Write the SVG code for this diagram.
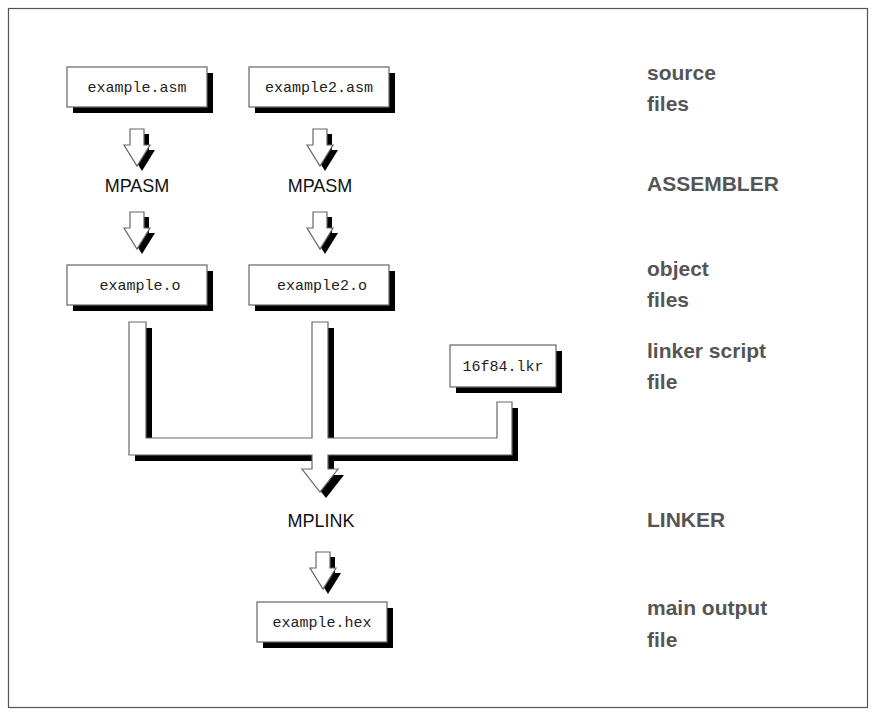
<svg xmlns="http://www.w3.org/2000/svg" width="876" height="717" viewBox="0 0 876 717">
<style>
.bx{fill:#fff;stroke:#666;stroke-width:1.2}
.sh{fill:#000}
.mono{font-family:"Liberation Mono",monospace;font-size:15px;fill:#222;text-anchor:middle}
.tool{font-family:"Liberation Sans",Arial,sans-serif;font-size:18px;fill:#111;text-anchor:middle}
.lbl{font-family:"Liberation Sans",Arial,sans-serif;font-size:21px;font-weight:bold;fill:#555}
</style>
<defs>
<g id="arr">
<path class="sh" transform="translate(5,5)" d="M-7,0 H7 V16 H13 L0,37 L-13,16 H-7 Z"/>
<path class="bx" d="M-7,0 H7 V16 H13 L0,37 L-13,16 H-7 Z"/>
</g>
</defs>
<rect x="8.5" y="8.5" width="859" height="699" fill="#fff" stroke="#555" stroke-width="1.2"/>
<g id="connectors">
<use href="#arr" x="137" y="129"/>
<use href="#arr" x="320" y="129"/>
<use href="#arr" x="137" y="212"/>
<use href="#arr" x="320" y="212"/>
<use href="#arr" x="323" y="552"/>
<path class="sh" transform="translate(6,6)" d="M129,322 H146 V438 H312 V322 H328 V438 H497 V402 H512 V455 H328 V469 H338 L320,492 L302,469 H312 V455 H129 Z"/>
<path class="bx" d="M129,322 H146 V438 H312 V322 H328 V438 H497 V402 H512 V455 H328 V469 H338 L320,492 L302,469 H312 V455 H129 Z"/>
</g>
<g id="n1"><rect class="sh" x="73" y="73" width="140" height="40"/><rect class="bx" x="67" y="67" width="140" height="40"/><text class="mono" x="137" y="92">example.asm</text></g>
<g id="n2"><rect class="sh" x="255" y="73" width="140" height="40"/><rect class="bx" x="249" y="67" width="140" height="40"/><text class="mono" x="319" y="92">example2.asm</text></g>
<g id="n3"><text class="tool" x="137" y="192">MPASM</text></g>
<g id="n4"><text class="tool" x="320" y="192">MPASM</text></g>
<g id="n5"><rect class="sh" x="73" y="271" width="140" height="40"/><rect class="bx" x="67" y="265" width="140" height="40"/><text class="mono" x="140" y="290">example.o</text></g>
<g id="n6"><rect class="sh" x="255" y="271" width="140" height="40"/><rect class="bx" x="249" y="265" width="140" height="40"/><text class="mono" x="322" y="290">example2.o</text></g>
<g id="n7"><rect class="sh" x="456" y="351" width="106" height="42"/><rect class="bx" x="450" y="345" width="106" height="42"/><text class="mono" x="503" y="371">16f84.lkr</text></g>
<g id="n8"><text class="tool" x="321" y="527">MPLINK</text></g>
<g id="n9"><rect class="sh" x="263" y="608" width="130" height="40"/><rect class="bx" x="257" y="602" width="130" height="40"/><text class="mono" x="322" y="627">example.hex</text></g>
<g id="labels">
<text class="lbl" x="647" y="80">source</text><text class="lbl" x="647" y="111">files</text>
<text class="lbl" x="647" y="191">ASSEMBLER</text>
<text class="lbl" x="647" y="276">object</text><text class="lbl" x="647" y="307">files</text>
<text class="lbl" x="647" y="358">linker script</text><text class="lbl" x="647" y="389">file</text>
<text class="lbl" x="647" y="527">LINKER</text>
<text class="lbl" x="647" y="615">main output</text><text class="lbl" x="647" y="647">file</text>
</g>
</svg>
